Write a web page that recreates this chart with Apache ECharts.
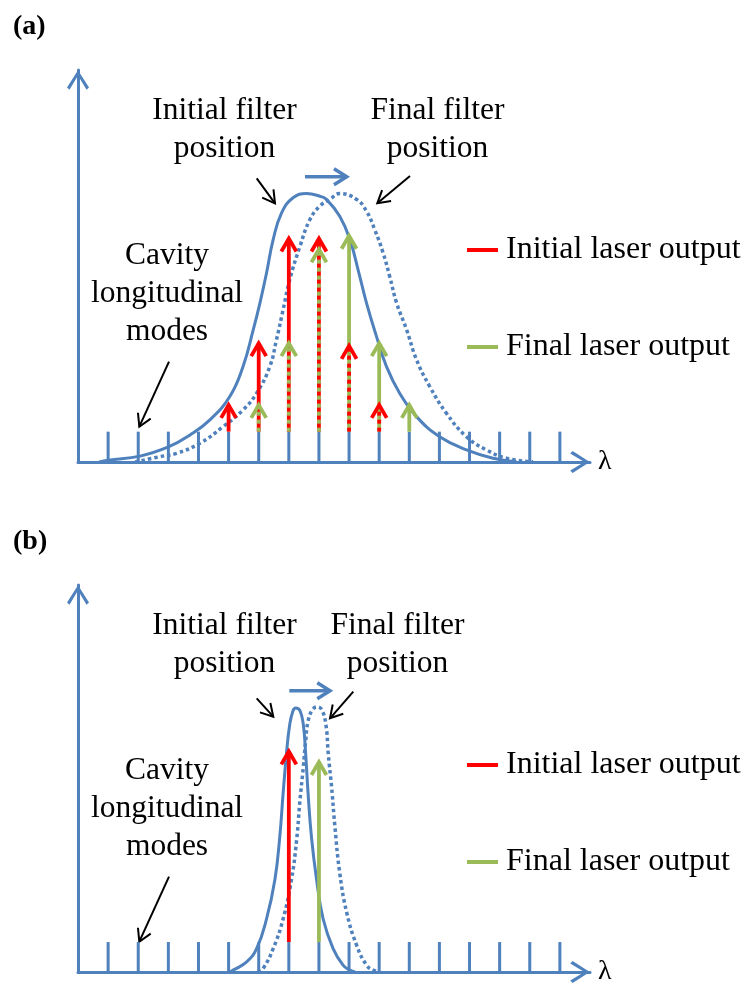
<!DOCTYPE html>
<html>
<head>
<meta charset="utf-8">
<script src="https://cdn.jsdelivr.net/npm/echarts@6/dist/echarts.min.js"></script>
<style>
html, body { margin: 0; padding: 0; background: #fff; }
#chart { width: 747px; height: 986px; }
</style>
</head>
<body>
<div id="chart"></div>
<script>
// ---- data ---------------------------------------------------------------
// Cavity longitudinal modes: index along the wavelength axis, and marker height
const modeIndex = [0, 1, 2, 3, 4, 5, 6, 7, 8, 9, 10, 11, 12, 13, 14, 15];
const modeMarkHeight = 0.113;

// (a) broad filter: transmission [mode index, relative transmission]
const broadInitialFilter = [
  [-0.3, 0], [0.0, 0.007], [1.06, 0.022], [2.02, 0.057], [2.71, 0.10], [3.38, 0.157],
  [4.04, 0.244], [4.48, 0.356], [4.82, 0.493], [5.04, 0.592], [5.26, 0.704], [5.48, 0.828],
  [5.76, 0.928], [6.14, 0.984], [6.59, 1.0], [7.03, 0.99], [7.25, 0.978], [7.69, 0.915],
  [8.03, 0.828], [8.30, 0.716], [8.58, 0.592], [8.91, 0.468], [9.24, 0.356], [9.68, 0.256],
  [10.24, 0.169], [11.01, 0.094], [11.90, 0.045], [12.78, 0.014], [13.56, 0.001]
];
const broadFinalFilter = [
  [0.9, 0], [1.72, 0.02], [2.27, 0.032], [3.05, 0.07], [3.82, 0.132], [4.48, 0.194],
  [4.93, 0.256], [5.37, 0.356], [5.59, 0.455], [5.81, 0.567], [6.03, 0.679], [6.37, 0.803],
  [6.70, 0.903], [7.03, 0.953], [7.36, 0.978], [7.69, 1.0], [8.25, 0.978], [8.58, 0.934],
  [8.85, 0.866], [9.13, 0.779], [9.35, 0.691], [9.58, 0.592], [9.91, 0.493], [10.24, 0.381],
  [10.68, 0.281], [11.23, 0.182], [11.90, 0.094], [12.56, 0.045], [13.23, 0.014], [14.11, 0.001]
];
// (a) lasing modes [mode index, relative intensity]
const broadInitialOutput = [[4, 0.22], [5, 0.45], [6, 0.84], [7, 0.84], [8, 0.44], [9, 0.22]];
const broadFinalOutput = [[5, 0.22], [6, 0.45], [7, 0.80], [8, 0.85], [9, 0.45], [10, 0.22]];

// (b) narrow filter: transmission [mode index, relative transmission]
const narrowInitialFilter = [
  [4.04, 0], [4.15, 0.007], [4.60, 0.038], [4.93, 0.088], [5.26, 0.2], [5.54, 0.35],
  [5.70, 0.511], [5.81, 0.673], [5.92, 0.822], [6.03, 0.934], [6.14, 0.986], [6.23, 0.996],
  [6.37, 0.986], [6.48, 0.934], [6.56, 0.822], [6.64, 0.673], [6.75, 0.511], [6.92, 0.35],
  [7.14, 0.2], [7.47, 0.088], [7.80, 0.026], [8.03, 0.007], [8.2, 0]
];
const narrowFinalFilter = [
  [4.97, 0], [5.15, 0.014], [5.48, 0.088], [5.81, 0.2], [6.09, 0.35], [6.26, 0.499],
  [6.37, 0.648], [6.48, 0.772], [6.56, 0.872], [6.64, 0.947], [6.79, 0.99], [6.94, 1.0],
  [7.09, 0.99], [7.23, 0.934], [7.31, 0.822], [7.42, 0.698], [7.53, 0.549], [7.69, 0.374],
  [7.92, 0.225], [8.25, 0.101], [8.58, 0.026], [8.80, 0.007], [9.0, 0]
];
// (b) lasing modes
const narrowInitialOutput = [[6, 0.84]];
const narrowFinalOutput = [[7, 0.80]];

const initialName = 'Initial laser output';
const finalName = 'Final laser output';

// ---- styling --------------------------------------------------------------
const BLUE = '#4F81BD';
const RED = '#FF0000';
const GREEN = '#9BBB59';
const FONT = '"Liberation Serif", "Times New Roman", serif';
const AXIS_ARROW = 'path://M11,0 L22,17.2 L19.5,19.6 L11,5.4 L2.5,19.6 L0,17.2 Z';

// open chevron head: arms swept back from the tip
function chevronPts(tip, ux, uy, len, angDeg) {
  const a = angDeg * Math.PI / 180, bx = -ux, by = -uy;
  const arm = s => [
    tip[0] + len * (bx * Math.cos(s * a) - by * Math.sin(s * a)),
    tip[1] + len * (bx * Math.sin(s * a) + by * Math.cos(s * a))
  ];
  return [arm(1), tip, arm(-1)];
}

function pointer(x1, y1, x2, y2, color, width, len, ang) {
  const L = Math.hypot(x2 - x1, y2 - y1);
  const ux = (x2 - x1) / L, uy = (y2 - y1) / L;
  return [
    { type: 'line', silent: true, shape: { x1, y1, x2, y2 }, style: { stroke: color, lineWidth: width } },
    { type: 'polyline', silent: true, shape: { points: chevronPts([x2, y2], ux, uy, len, ang) },
      style: { stroke: color, lineWidth: width, fill: null } }
  ];
}

function note(text, x, y, size, weight, align) {
  return {
    type: 'text', x, y, silent: true,
    style: {
      text, fill: '#000', fontSize: size, fontFamily: FONT, fontWeight: weight || 'normal',
      align: align || 'center', verticalAlign: 'middle', lineHeight: 38
    }
  };
}

function axisPair(gi) {
  const line = {
    show: true, onZero: false,
    symbol: ['none', AXIS_ARROW], symbolSize: [22, 20], symbolOffset: [0, -10],
    lineStyle: { color: BLUE, width: 3 }
  };
  return {
    x: {
      type: 'value', gridIndex: gi, min: -1, max: 16,
      axisLine: line, axisTick: { show: false }, axisLabel: { show: false }, splitLine: { show: false },
      name: 'λ', nameLocation: 'end', nameGap: 8,
      nameTextStyle: { fontFamily: FONT, fontSize: 28, color: '#000', verticalAlign: 'middle', padding: [8, 0, 0, 0] }
    },
    y: {
      type: 'value', gridIndex: gi, min: 0, max: 1.46,
      axisLine: line, axisTick: { show: false }, axisLabel: { show: false }, splitLine: { show: false }
    }
  };
}

function filterCurve(data, gi, dotted) {
  return {
    type: 'line', xAxisIndex: gi, yAxisIndex: gi, data, smooth: 0.45,
    showSymbol: false, symbol: 'none', silent: true, z: 2,
    lineStyle: { color: BLUE, width: dotted ? 3.5 : 3, type: dotted ? [3.5, 3] : 'solid' }
  };
}

function modeMarks(gi) {
  return {
    type: 'custom', xAxisIndex: gi, yAxisIndex: gi, silent: true, z: 3,
    data: modeIndex.map(u => [u, modeMarkHeight]),
    renderItem(params, api) {
      const p0 = api.coord([api.value(0), 0]);
      const p1 = api.coord([api.value(0), api.value(1)]);
      return { type: 'line', shape: { x1: p0[0], y1: p0[1], x2: p1[0], y2: p1[1] },
               style: { stroke: BLUE, lineWidth: 3 } };
    }
  };
}

// laser lines: where two outputs share a mode, the shorter one is drawn dashed on top
function laserArrows(name, color, own, other, gi) {
  const otherAt = new Map(other.map(d => [d[0], d[1]]));
  return {
    type: 'custom', name, xAxisIndex: gi, yAxisIndex: gi, silent: true, z: 4,
    itemStyle: { color },
    data: own,
    renderItem(params, api) {
      const u = api.value(0), v = api.value(1);
      const base = api.coord([u, modeMarkHeight]);
      const tip = api.coord([u, v]);
      const o = otherAt.get(u);
      const onTop = o !== undefined && o > v;
      return {
        type: 'group',
        children: [
          { type: 'line', z2: onTop ? 2 : 1,
            shape: { x1: base[0], y1: base[1], x2: tip[0], y2: tip[1] + 2 },
            style: { stroke: color, lineWidth: 3.8, lineDash: onTop ? [4, 4] : null } },
          { type: 'polyline', z2: onTop ? 4 : 3,
            shape: { points: chevronPts([tip[0], tip[1] + 2], 0, -1, 15, 30) },
            style: { stroke: color, lineWidth: 3.8, fill: null } }
        ]
      };
    }
  };
}

function panelNotes(dy, finalX, label) {
  return [
    note(label, 13, 27 + dy, 28, 'bold', 'left'),
    note('Initial filter\nposition', 224.5, 130 + dy, 31.5),
    note('Final filter\nposition', finalX, 130 + dy, 31.5),
    note('Cavity\nlongitudinal\nmodes', 167, 294 + dy, 31.5),
    ...pointer(169, 361.7 + dy, 139.3, 426.7 + dy, '#000', 2, 14, 30)
  ];
}

const axA = axisPair(0), axB = axisPair(1);

const graphics = [
  ...panelNotes(0, 437.5, '(a)'),
  ...pointer(256.7, 178.3, 275, 203.3, '#000', 2, 14, 30),
  ...pointer(410, 176, 377.3, 203.3, '#000', 2, 14, 30),
  ...pointer(305, 176.7, 346.7, 176.7, BLUE, 3.5, 15, 32),
  ...panelNotes(515, 397.5, '(b)'),
  ...pointer(256.7, 698.3, 273.3, 716.7, '#000', 2, 14, 30),
  ...pointer(353.3, 691.7, 330, 718.3, '#000', 2, 14, 30),
  ...pointer(289.3, 690.7, 330, 690.7, BLUE, 3.5, 15, 32)
];

function legendAt(top) {
  return {
    left: 462, top, orient: 'vertical', itemGap: 61, itemWidth: 31, itemHeight: 4,
    icon: 'rect', selectedMode: false,
    data: [initialName, finalName],
    textStyle: { fontFamily: FONT, fontSize: 32, color: '#000', lineHeight: 36, padding: [0, 0, 0, 3] }
  };
}

const chart = echarts.init(document.getElementById('chart'), null, { renderer: 'canvas' });
chart.setOption({
  animation: false,
  backgroundColor: '#fff',
  grid: [
    { left: 78, top: 70, width: 512, height: 392 },
    { left: 78, top: 585, width: 512, height: 392 }
  ],
  xAxis: [axA.x, axB.x],
  yAxis: [axA.y, axB.y],
  legend: [legendAt(227), legendAt(742)],
  graphic: graphics,
  series: [
    filterCurve(broadInitialFilter, 0, false),
    filterCurve(broadFinalFilter, 0, true),
    modeMarks(0),
    laserArrows(initialName, RED, broadInitialOutput, broadFinalOutput, 0),
    laserArrows(finalName, GREEN, broadFinalOutput, broadInitialOutput, 0),
    filterCurve(narrowInitialFilter, 1, false),
    filterCurve(narrowFinalFilter, 1, true),
    modeMarks(1),
    laserArrows(initialName, RED, narrowInitialOutput, narrowFinalOutput, 1),
    laserArrows(finalName, GREEN, narrowFinalOutput, narrowInitialOutput, 1)
  ]
});
</script>
</body>
</html>
